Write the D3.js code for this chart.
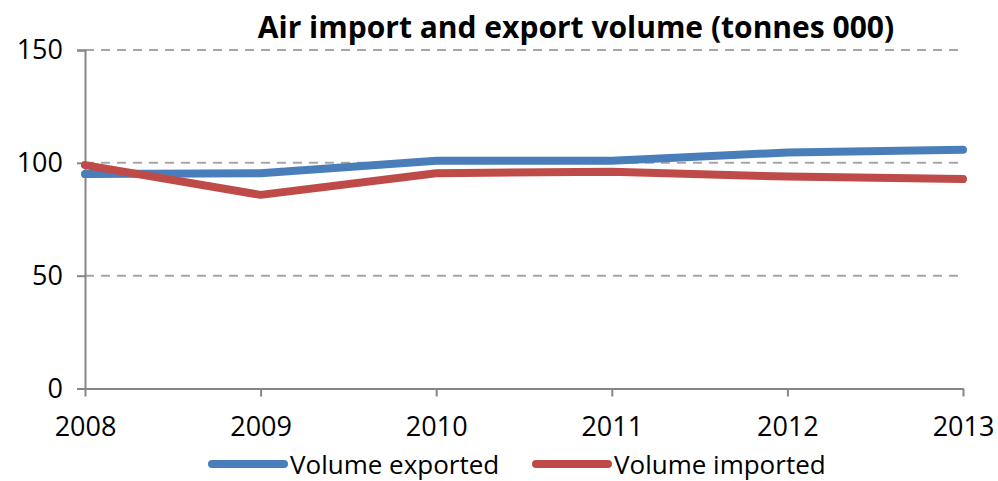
<!DOCTYPE html>
<html>
<head>
<meta charset="utf-8">
<script src="https://cdn.jsdelivr.net/npm/d3@7"></script>
<style>
  body { margin: 0; background: #fff; }
  svg { display: block; }
  svg text { font-family: "Open Sans", "Noto Sans", sans-serif; }
</style>
</head>
<body>
<svg></svg>
<script>
const width = 998;
const height = 481;

// data
const years = [2008, 2009, 2010, 2011, 2012, 2013];
const exported = [95, 95.4, 100.9, 100.9, 104.6, 105.8];
const imported = [99, 85.8, 95.4, 96.1, 93.9, 92.8];
const yTicks = [0, 50, 100, 150];
const seriesNames = ["Volume exported", "Volume imported"];
const seriesColors = ["#4a7ebb", "#be4b48"];

const svg = d3.select("svg").attr("width", width).attr("height", height);

const x = d3.scalePoint().domain(years).range([85, 963]);
const y = d3.scaleLinear().domain([0, 150]).range([388.5, 50]);

// 網格線
svg.append("g")
    .selectAll("line")
    .data(yTicks.filter(d => d > 0))
    .enter().append("line")
    .attr("x1", 85).attr("x2", 963)
    .attr("y1", d => y(d)).attr("y2", d => y(d))
    .attr("stroke", "#a6a6a6")
    .attr("stroke-width", 2)
    .attr("stroke-dasharray", "9,7");

// y axis
const yAxis = svg.append("g")
    .attr("transform", "translate(85,0)")
    .call(d3.axisLeft(y).tickValues(yTicks).tickSize(8).tickPadding(14));
yAxis.attr("font-family", null).attr("font-size", null);
yAxis.select(".domain").attr("stroke", "#868686").attr("stroke-width", 2);
yAxis.selectAll(".tick line").attr("stroke", "#868686").attr("stroke-width", 2);
yAxis.selectAll(".tick text")
    .attr("font-size", 27)
    .attr("fill", "#000");

// x axis
const xAxis = svg.append("g")
    .attr("transform", `translate(0,${y(0)})`)
    .call(d3.axisBottom(x).tickSize(8).tickSizeOuter(0).tickPadding(20));
xAxis.attr("font-family", null).attr("font-size", null);
xAxis.select(".domain").attr("stroke", "#868686").attr("stroke-width", 2);
xAxis.selectAll(".tick line").attr("stroke", "#868686").attr("stroke-width", 2);
xAxis.selectAll(".tick text")
    .attr("font-size", 27)
    .attr("fill", "#000");

// lines
const line = d3.line()
    .x((d, i) => x(years[i]))
    .y(d => y(d));

[exported, imported].forEach((values, i) => {
    svg.append("path")
        .datum(values)
        .attr("d", line)
        .attr("fill", "none")
        .attr("stroke", seriesColors[i])
        .attr("stroke-width", 8)
        .attr("stroke-linecap", "round")
        .attr("stroke-linejoin", "round");
});

// title
svg.append("text")
    .attr("x", 576)
    .attr("y", 38)
    .attr("text-anchor", "middle")
    .attr("font-size", 30)
    .attr("font-weight", "bold")
    .attr("fill", "#000")
    .text("Air import and export volume (tonnes 000)");

// legend
const legendX = [212, 536];
const legend = svg.append("g")
    .selectAll("g")
    .data(seriesNames)
    .enter().append("g")
    .attr("transform", (d, i) => `translate(${legendX[i]},464)`);
legend.append("line")
    .attr("x1", 0).attr("x2", 72)
    .attr("stroke", (d, i) => seriesColors[i])
    .attr("stroke-width", 8)
    .attr("stroke-linecap", "round");
legend.append("text")
    .attr("x", 78)
    .attr("y", 10)
    .attr("font-size", 26)
    .attr("fill", "#000")
    .text(d => d);
</script>
</body>
</html>
